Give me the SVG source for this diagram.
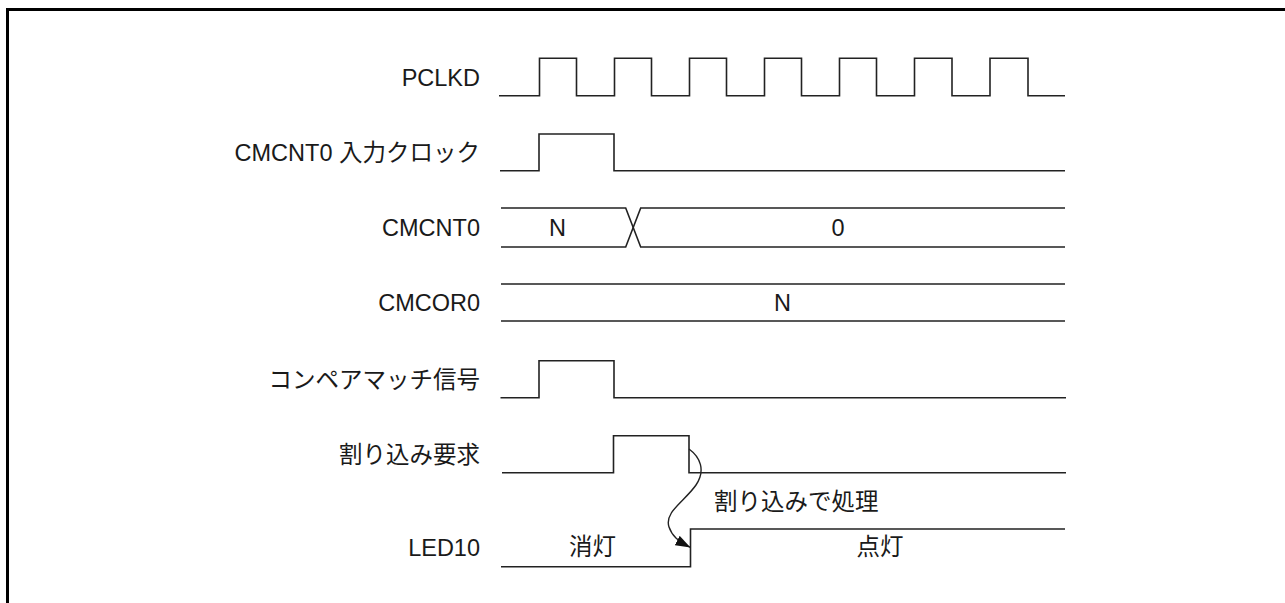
<svg xmlns="http://www.w3.org/2000/svg" width="1285" height="603" viewBox="0 0 1285 603">
<style>
  .lbl { font-family: "Liberation Sans", "Noto Sans CJK JP", sans-serif; font-size: 23.5px; fill: #1a1a1a; }
  .end { text-anchor: end; }
  .mid { text-anchor: middle; }
  .sig { fill: none; stroke: #222; stroke-width: 1.6; stroke-linejoin: miter; }
  .frame { fill: none; stroke: #000; stroke-width: 3; }
</style>
<defs>
  <marker id="arr" viewBox="0 0 14 10" refX="14" refY="5" markerWidth="15" markerHeight="11" markerUnits="userSpaceOnUse" orient="auto">
    <path d="M0 0 L14 5 L0 10 Z" fill="#111"/>
  </marker>
</defs>
<rect x="0" y="0" width="1285" height="603" fill="#fff"/>
<path class="frame" d="M7.5 603 V9.5 H1285"/>

<g id="pclkd">
  <text class="lbl end" x="480" y="86">PCLKD</text>
  <path class="sig" d="M499 95.7 H539.5 V58.3 H576.5 V95.7 H614.5 V58.3 H651.5 V95.7 H689.5 V58.3 H726.5 V95.7 H764.5 V58.3 H801.5 V95.7 H839.5 V58.3 H876.5 V95.7 H914.5 V58.3 H952 V95.7 H990 V58.3 H1028 V95.7 H1065"/>
</g>

<g id="cmcnt0-clk">
  <text class="lbl end" x="480" y="161">CMCNT0 入力クロック</text>
  <path class="sig" d="M500 170.7 H539 V134 H614 V170.7 H1065"/>
</g>

<g id="cmcnt0">
  <text class="lbl end" x="480" y="235.5">CMCNT0</text>
  <path class="sig" d="M501 208 H625.7 L640.7 247 H1065"/>
  <path class="sig" d="M501 247 H625.7 L640.7 208 H1065"/>
  <text class="lbl mid" x="557.5" y="235.5">N</text>
  <text class="lbl mid" x="838" y="235.5">0</text>
</g>

<g id="cmcor0">
  <text class="lbl end" x="480" y="310.5">CMCOR0</text>
  <path class="sig" d="M501 284 H1065 M501 321 H1065"/>
  <text class="lbl mid" x="782.5" y="310.5">N</text>
</g>

<g id="compare-match">
  <text class="lbl end" x="480" y="387.5">コンペアマッチ信号</text>
  <path class="sig" d="M500.5 397.7 H539 V360.7 H614 V397.7 H1066"/>
</g>

<g id="interrupt-request">
  <text class="lbl end" x="480" y="462.5">割り込み要求</text>
  <path class="sig" d="M502 472.7 H613.5 V435.7 H689 V472.7 H1066"/>
</g>

<g id="led10">
  <text class="lbl end" x="480" y="556">LED10</text>
  <path class="sig" d="M501 566.7 H690.5 V529 H1065"/>
  <text class="lbl mid" x="592.5" y="555">消灯</text>
  <text class="lbl mid" x="880" y="555">点灯</text>
</g>

<g id="connectors">
  <path d="M689 449 C700 457, 706 470, 696 485 C685 501, 664 512, 669 527 C672 536, 678 541, 690.5 547.5" fill="none" stroke="#222" stroke-width="1.4" marker-end="url(#arr)"/>
  <text class="lbl" x="714" y="510">割り込みで処理</text>
</g>
</svg>
